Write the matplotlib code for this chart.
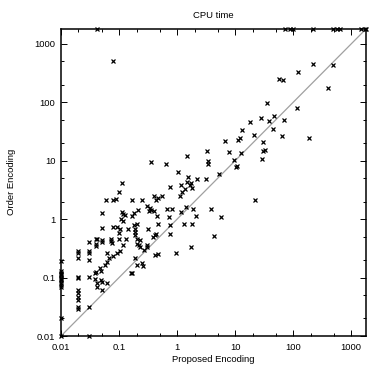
import numpy as np
import matplotlib
matplotlib.use('Agg')
from matplotlib import pyplot as plt
from matplotlib.ticker import LogLocator, FixedLocator, FixedFormatter, NullFormatter

plt.rcParams['font.family'] = ['Liberation Sans', 'DejaVu Sans']

# run times that hit the 1800 s timeout under the order encoding
timeout_x = [0.042, 73, 88, 100, 220, 490, 570, 650, 1500, 1700, 1800]

# (proposed, order) pairs
proposed = [
    0.079, 220, 480, 120, 56, 66, 400, 36, 116, 18, 28, 39, 47, 70, 45, 13.4,
    21, 64, 184, 30, 30, 33, 29, 22,
    6.7, 11.4, 12.2, 3.3, 7.7, 12.4, 1.49, 3.4, 3.35, 9.5, 10.7, 10.4, 0.64,
    1.05, 5.2, 1.53, 2.24, 3.1, 1.47, 1.74, 1.66, 1.16, 0.77, 1.37, 1.21, 1.12,
    1.84, 0.54, 0.46, 0.43, 0.67, 0.81, 1.41, 1.17, 1.91, 3.85, 0.45, 0.47,
    0.74, 0.76, 2.1, 5.7, 1.33, 1.84, 0.44, 0.77, 4.3, 1.76, 0.46, 0.95,
    0.36, 0.111, 0.101, 0.060, 0.080, 0.090, 0.167, 0.25, 0.40, 0.050, 0.111,
    0.119, 0.127, 0.107, 0.116, 0.18, 0.21, 0.17, 0.34, 0.36, 0.40, 0.33, 0.30,
    0.050, 0.080, 0.092, 0.103, 0.14, 0.18, 0.19, 0.19, 0.31, 0.2,
    0.01, 0.01, 0.01, 0.01, 0.01, 0.01, 0.01, 0.01, 0.01, 0.01, 0.01, 0.01, 0.01,
    0.02, 0.02, 0.02, 0.02, 0.02, 0.02, 0.02, 0.02, 0.02, 0.02, 0.02,
    0.03, 0.03, 0.03, 0.03, 0.03, 0.03, 0.03,
    0.040, 0.042, 0.040, 0.040, 0.050, 0.051, 0.072, 0.073, 0.075,
    0.10, 0.10, 0.13, 0.19, 0.20, 0.20, 0.23, 0.22, 0.30, 0.27, 0.39, 0.42,
    0.16, 0.061, 0.067, 0.061, 0.058, 0.047, 0.040, 0.039, 0.039, 0.041, 0.048,
    0.050, 0.061, 0.080, 0.091, 0.104, 0.118, 0.049, 0.050, 0.041, 0.165,
    0.2, 0.25, 0.26, 0.42, 0.19, 0.23, 0.30,
]
order = [
    510, 460, 430, 330, 250, 245, 175, 98, 81, 46, 53, 47, 58, 49, 35, 34,
    27.6, 26.6, 25, 21, 14.7, 15.5, 10.6, 2.1,
    21.9, 22.7, 24.3, 14.7, 14, 13.4, 12.2, 10.0, 8.8, 10.1, 8.2, 7.7, 8.7,
    6.5, 5.9, 5.3, 4.9, 4.9, 4.3, 4.1, 3.85, 3.85, 3.6, 3.25, 2.95, 2.5,
    3.4, 2.5, 2.28, 2.1, 1.48, 1.48, 1.64, 1.31, 1.5, 1.5, 1.13, 0.82,
    1.08, 0.8, 1.15, 1.08, 0.83, 0.83, 0.56, 0.56, 0.52, 0.34, 0.25, 0.26,
    9.7, 4.1, 2.95, 2.16, 2.1, 2.25, 2.16, 2.1, 2.5, 1.26, 1.31,
    1.23, 1.18, 0.99, 0.93, 1.26, 1.41, 1.13, 1.53, 1.44, 1.38, 1.36, 1.66,
    0.70, 0.72, 0.74, 0.69, 0.68, 0.80, 0.67, 0.61, 0.69, 0.83,
    0.19, 0.13, 0.12, 0.115, 0.11, 0.1, 0.095, 0.09, 0.08, 0.075, 0.07, 0.02, 0.01,
    0.285, 0.26, 0.214, 0.104, 0.1, 0.061, 0.054, 0.047, 0.041, 0.031, 0.029,
    0.41, 0.28, 0.26, 0.2, 0.104, 0.031, 0.01,
    0.46, 0.45, 0.37, 0.35, 0.44, 0.41, 0.46, 0.43, 0.39,
    0.57, 0.46, 0.45, 0.53, 0.45, 0.37, 0.44, 0.36, 0.34, 0.30, 0.50, 0.53,
    0.12, 0.26, 0.214, 0.187, 0.165, 0.144, 0.126, 0.118, 0.094, 0.08, 0.091,
    0.085, 0.08, 0.23, 0.26, 0.29, 0.36, 0.13, 0.061, 0.07, 0.118,
    0.165, 0.176, 0.155, 0.24, 0.215, 0.34, 0.36,
]

lo, hi = 0.01, 1800
ticks = [0.01, 0.1, 1, 10, 100, 1000]
tick_labels = ['0.01', '0.1', '1', '10', '100', '1000']

W, H = 369, 365
fig = plt.figure(figsize=(W / 100, H / 100), dpi=100)
ax = fig.add_axes([61 / W, (H - 336) / H, 305 / W, 307 / H])

ax.plot([lo, hi], [lo, hi], color='#a0a0a0', lw=0.9, zorder=1)
ax.plot(proposed, order, ls='none', marker='x', ms=3.4, mew=0.9, color='black',
        clip_on=False, zorder=3)
ax.plot(timeout_x, [hi] * len(timeout_x), ls='none', marker='x', ms=3.4, mew=0.9,
        color='black', clip_on=False, zorder=3)

ax.set_xscale('log')
ax.set_yscale('log')
ax.set_xlim(lo, hi)
ax.set_ylim(lo, hi)

for axis in (ax.xaxis, ax.yaxis):
    axis.set_major_locator(FixedLocator(ticks))
    axis.set_major_formatter(FixedFormatter(tick_labels))
    axis.set_minor_locator(LogLocator(base=10, subs=(2.0, 5.0)))
    axis.set_minor_formatter(NullFormatter())

ax.tick_params(which='both', direction='in', top=True, right=True, labelsize=6.8,
               width=0.7, colors='black')
ax.tick_params(which='major', length=4)
ax.tick_params(which='minor', length=2.2)
ax.tick_params(axis='x', pad=5)
ax.tick_params(axis='y', pad=4)
for s in ax.spines.values():
    s.set_linewidth(1.1)

fig.text(213.5 / W, 1 - 15 / H, 'CPU time', ha='center', va='center', fontsize=6.8)
fig.text(213.5 / W, 1 - 359 / H, 'Proposed Encoding', ha='center', va='center',
         fontsize=6.8)
fig.text(12 / W, 1 - 182 / H, 'Order Encoding', ha='center', va='center',
         rotation=90, fontsize=6.8)

fig.savefig('out.png', dpi=100)
